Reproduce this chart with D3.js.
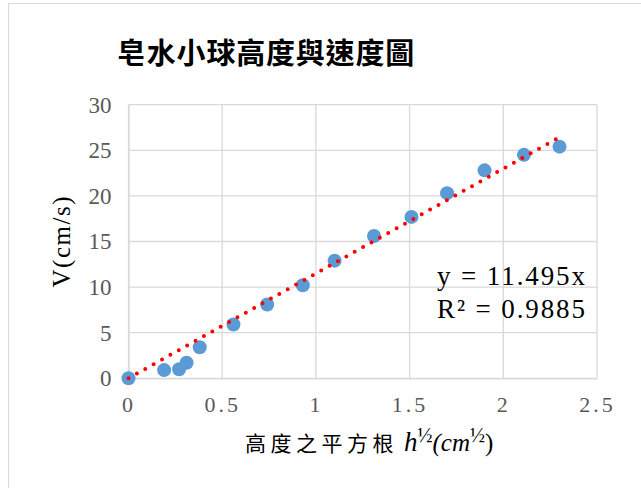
<!DOCTYPE html>
<html><head><meta charset="utf-8">
<script src="https://cdn.jsdelivr.net/npm/d3@7"></script>
<style>html,body{margin:0;padding:0;background:#fff;}svg{display:block;}</style>
</head><body>
<svg id="c" width="641" height="488"></svg>
<script>
const titleText = "皂水小球高度與速度圖";
const yLabelText = "V(cm/s)";
const sqrtH = [0, 0.19, 0.27, 0.31, 0.38, 0.56, 0.74, 0.93, 1.10, 1.31, 1.51, 1.70, 1.90, 2.11, 2.30];
const velocity = [0, 0.9, 1.0, 1.7, 3.4, 5.9, 8.1, 10.2, 12.9, 15.6, 17.7, 20.3, 22.8, 24.5, 25.4];
const slope = 11.495;
const rSquared = 0.9885;
const xTicks = [0, 0.5, 1, 1.5, 2, 2.5];
const yTicks = [0, 5, 10, 15, 20, 25, 30];

const svg = d3.select("#c");
svg.append("rect").attr("x", 8.5).attr("y", 3.5).attr("width", 700).attr("height", 600)
  .attr("fill", "#fff").attr("stroke", "#d9d9d9").attr("stroke-width", 1);

const x = d3.scaleLinear().domain([0, 2.5]).range([128.5, 597]);
const y = d3.scaleLinear().domain([0, 30]).range([378.3, 104.7]);

// grid
const g = svg.append("g");
g.selectAll("line.h").data(yTicks).join("line")
  .attr("x1", x(0)).attr("x2", x(2.5)).attr("y1", d => y(d)).attr("y2", d => y(d))
  .attr("stroke", "#d9d9d9").attr("stroke-width", 1.3);
g.selectAll("line.v").data(xTicks).join("line")
  .attr("y1", y(0)).attr("y2", y(30)).attr("x1", d => x(d)).attr("x2", d => x(d))
  .attr("stroke", "#d9d9d9").attr("stroke-width", 1.3);

// axes
const xAxis = svg.append("g").attr("transform", `translate(0,${y(0)})`)
  .call(d3.axisBottom(x).tickValues(xTicks).tickSize(0).tickPadding(18).tickFormat(d3.format("")));
xAxis.select(".domain").attr("stroke", "#d9d9d9").attr("stroke-width", 1.3);
xAxis.selectAll("text").attr("font-family", "Liberation Serif").attr("font-size", 22)
  .attr("fill", "#595959").attr("letter-spacing", 3);

const yAxis = svg.append("g").attr("transform", `translate(${x(0)},0)`)
  .call(d3.axisLeft(y).tickValues(yTicks).tickSize(0).tickPadding(17));
yAxis.select(".domain").attr("stroke", "#d9d9d9").attr("stroke-width", 1.3);
yAxis.selectAll("text").attr("font-family", "Liberation Serif").attr("font-size", 23)
  .attr("fill", "#595959");

// points
svg.append("g").selectAll("circle").data(sqrtH.map((d, i) => [d, velocity[i]])).join("circle")
  .attr("cx", d => x(d[0])).attr("cy", d => y(d[1])).attr("r", 7).attr("fill", "#5B9BD5");

// trendline
const xMax = d3.max(sqrtH);
svg.append("line").attr("x1", x(0)).attr("y1", y(0)).attr("x2", x(xMax)).attr("y2", y(slope * xMax))
  .attr("stroke", "#ff0000").attr("stroke-width", 4).attr("stroke-linecap", "round")
  .attr("stroke-dasharray", "0 9.6");

// equation
svg.append("text").attr("x", 437).attr("y", 285).attr("font-family", "Liberation Serif")
  .attr("font-size", 27).attr("fill", "#000").attr("textLength", 148).attr("lengthAdjust", "spacing")
  .text(`y = ${slope}x`);
svg.append("text").attr("x", 437).attr("y", 318).attr("font-family", "Liberation Serif")
  .attr("font-size", 27).attr("fill", "#000").attr("textLength", 148).attr("lengthAdjust", "spacing")
  .text(`R² = ${rSquared}`);

// title
svg.append("text").attr("x", 266).attr("y", 64).attr("text-anchor", "middle")
  .attr("font-family", "Noto Sans CJK TC").attr("font-weight", 700).attr("font-size", 29)
  .attr("letter-spacing", 0.8).attr("fill", "#000").text(titleText);

// y label
svg.append("text").attr("transform", "translate(70,242) rotate(-90)").attr("text-anchor", "middle")
  .attr("font-family", "Liberation Serif").attr("font-size", 25).attr("fill", "#000")
  .attr("textLength", 91).attr("lengthAdjust", "spacing").text(yLabelText);

// x label
const xl = svg.append("text").attr("x", 245).attr("y", 451).attr("fill", "#000");
xl.append("tspan").attr("font-family", "Noto Sans CJK TC").attr("font-size", 21)
  .attr("letter-spacing", 4.5).text("高度之平方根");
xl.append("tspan").attr("font-family", "Liberation Serif").attr("font-style", "italic")
  .attr("font-size", 27).attr("dx", 6).text("h");
xl.append("tspan").attr("font-family", "Liberation Serif").attr("font-size", 20)
  .attr("dy", -9).text("½");
xl.append("tspan").attr("font-family", "Liberation Serif").attr("font-style", "italic")
  .attr("font-size", 25).attr("dy", 9).text("(cm");
xl.append("tspan").attr("font-family", "Liberation Serif").attr("font-size", 20)
  .attr("dy", -9).text("½");
xl.append("tspan").attr("font-family", "Liberation Serif").attr("font-size", 25)
  .attr("dy", 9).text(")");
</script>
</body></html>
